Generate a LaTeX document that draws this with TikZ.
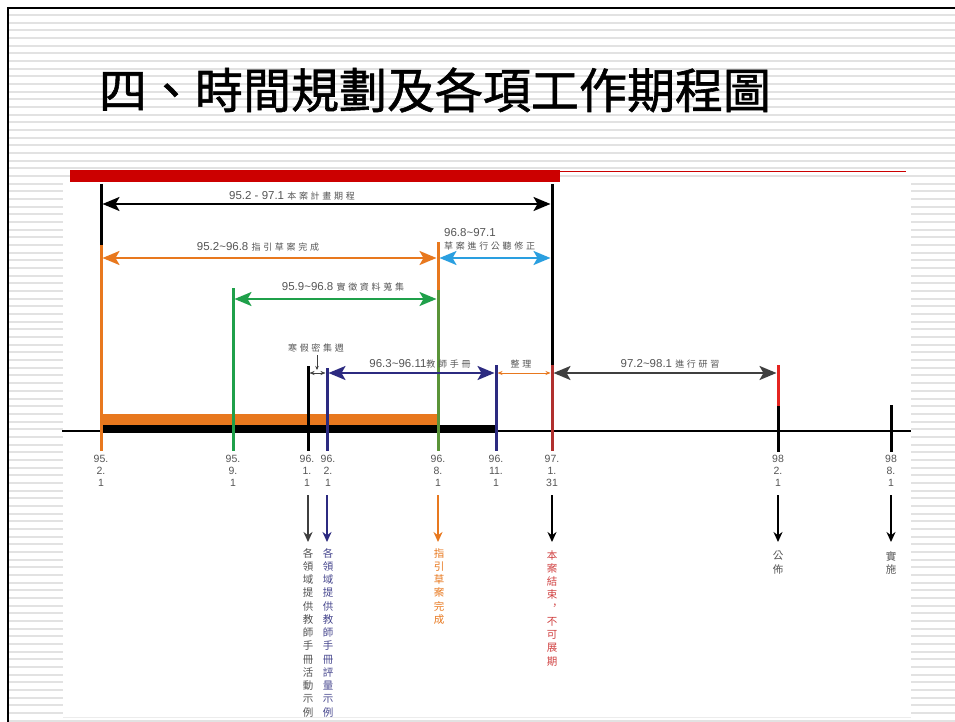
\documentclass[tikz,border=0pt]{standalone}
\usepackage{fontspec}
\setmainfont{Liberation Sans}
\newfontfamily\cjk{Noto Sans CJK TC}
\newfontfamily\cjkt[FakeBold=1.2]{Noto Sans CJK TC}
\newfontfamily\cjks[LetterSpace=30]{Noto Sans CJK TC}
\usetikzlibrary{arrows.meta}
\definecolor{slidered}{HTML}{CC0000}
\definecolor{orng}{HTML}{E8781E}
\definecolor{grn}{HTML}{1FA04A}
\definecolor{olivegrn}{HTML}{5A9438}
\definecolor{sky}{HTML}{2A9FE0}
\definecolor{navyc}{HTML}{2C2A80}
\definecolor{dred}{HTML}{B0302E}
\definecolor{bred}{HTML}{E52420}
\definecolor{txtgray}{HTML}{555555}
\definecolor{agray}{HTML}{3F3F3F}
\definecolor{stripec}{HTML}{E2E2E2}
\definecolor{vnavy}{HTML}{4A4A90}
\definecolor{vred}{HTML}{D04040}
\tikzset{
  vline/.style={line width=3pt},
  dbl/.style={line width=2.4pt,{Stealth[length=17pt,width=14pt,inset=4pt]}-{Stealth[length=17pt,width=14pt,inset=4pt]},shorten <=1.5pt,shorten >=1.5pt},
  thin dbl/.style={line width=0.9pt,{Stealth[length=5pt,width=4pt]}-{Stealth[length=5pt,width=4pt]},shorten <=1.5pt,shorten >=1.5pt},
  down/.style={line width=2pt,-{Stealth[length=10pt,width=9pt]}},
  lbl/.style={text=txtgray,inner sep=0pt,font=\fontsize{11.5}{13}\selectfont},
  tick/.style={text=txtgray,inner sep=0pt,align=center,font=\fontsize{10.5}{12}\selectfont},
  vtext/.style={inner sep=0pt,align=center,anchor=north,font=\cjk\fontsize{10.5}{13.25}\selectfont},
}
\begin{document}
\begin{tikzpicture}[x=1pt,y=-1pt]
\useasboundingbox (0,0) rectangle (955,722);
\fill[white] (0,0) rectangle (955,722);
% stripes
\foreach \i in {0,...,92} \draw[stripec,line width=2pt] (9,15+7.67*\i) -- (955,15+7.67*\i);
% white picture area
\fill[white] (63,183) rectangle (911,717);
\draw[gray!15,line width=0.8pt] (63,717) -- (911,717);
% slide border
\draw[line width=2.6pt] (8,722) -- (8,8) -- (955,8);
% title
\node[font=\cjkt\fontsize{48}{52}\selectfont,inner sep=0pt] (title) at (435,90) {四、時間規劃及各項工作期程圖};
% red bar
\fill[slidered] (70,170.5) rectangle (560,182);
\draw[slidered,line width=1.2pt] (560,171.5) -- (906,171.5);

% axis and bars
\fill[orng] (101,414) rectangle (438,424.5);
\fill[black] (101,424.5) rectangle (495,433);
\draw[line width=2pt] (62,431) -- (911,431);

% named points
\coordinate (a1) at (101,204); \coordinate (a2) at (552,204);
\coordinate (b1) at (101,258); \coordinate (b2) at (438,258); \coordinate (b3) at (552,258);
\coordinate (c1) at (233,299); \coordinate (c2) at (438,299);
\coordinate (d0) at (308,373); \coordinate (d1) at (327,373); \coordinate (d2) at (496,373); \coordinate (d3) at (552,373); \coordinate (d4) at (778,373);

% vertical lines
\draw[vline,black] (101,184) -- (101,245);
\draw[vline,orng] (101,245) -- (101,451);
\draw[vline,grn] (233,288) -- (233,451);
\draw[vline,black] (308,366) -- (308,451);
\draw[vline,navyc] (327,368) -- (327,451);
\draw[vline,orng] (438,242) -- (438,290);
\draw[vline,olivegrn] (438,290) -- (438,451);
\draw[vline,navyc] (496,365) -- (496,451);
\draw[vline,black] (552,184) -- (552,365);
\draw[vline,dred] (552,365) -- (552,451);
\draw[vline,bred] (778,365) -- (778,406);
\draw[vline,black] (778,406) -- (778,452);
\draw[vline,black] (891,405) -- (891,452);

% span arrows
\draw[dbl,black] (a1) -- (a2);
\node[lbl] (la) at (292,196) {95.2 - 97.1 {\cjks\fontsize{9}{10}\selectfont 本案計畫期程}};
\draw[dbl,orng] (b1) -- (b2);
\node[lbl] (lb) at (258,247) {95.2\textasciitilde96.8 {\cjks\fontsize{9}{10}\selectfont 指引草案完成}};
\draw[dbl,sky] (b2) -- (b3);
\node[lbl,anchor=west] (lc1) at (444,233) {96.8\textasciitilde97.1};
\node[lbl,anchor=west] (lc2) at (444,246) {\cjks\fontsize{9}{10}\selectfont 草案進行公聽修正};
\draw[dbl,grn] (c1) -- (c2);
\node[lbl] (ld) at (343,287) {95.9\textasciitilde96.8 {\cjks\fontsize{9}{10}\selectfont 實徵資料蒐集}};
% winter week
\node[text=txtgray,inner sep=0pt,font=\cjks\fontsize{9}{10}\selectfont] (lw) at (316,348) {寒假密集週};
\coordinate (w1) at (317,355); \coordinate (w2) at (317,370);
\draw[agray,line width=0.7pt,-{Stealth[length=4pt,width=3.5pt]}] (w1) -- (w2);
\draw[thin dbl,agray,line width=0.6pt] (d0) -- (d1);
\draw[dbl,navyc] (d1) -- (d2);
\node[lbl] (le) at (420,364) {96.3\textasciitilde96.11{\cjks\fontsize{9}{10}\selectfont 教師手冊}};
\draw[thin dbl,orng] (d2) -- (d3);
\node[lbl] (lf) at (521,364) {\cjks\fontsize{9}{10}\selectfont 整理};
\draw[dbl,agray] (d3) -- (d4);
\node[lbl] (lg) at (670,364) {97.2\textasciitilde98.1 {\cjks\fontsize{9}{10}\selectfont 進行研習}};

% tick labels
\node[tick,anchor=north] (t1) at (101,455) {95.\\2.\\1};
\node[tick,anchor=north] (t2) at (233,455) {95.\\9.\\1};
\node[tick,anchor=north] (t3) at (307,455) {96.\\1.\\1};
\node[tick,anchor=north] (t4) at (328,455) {96.\\2.\\1};
\node[tick,anchor=north] (t5) at (438,455) {96.\\8.\\1};
\node[tick,anchor=north] (t6) at (496,455) {96.\\11.\\1};
\node[tick,anchor=north] (t7) at (552,455) {97.\\1.\\31};
\node[tick,anchor=north] (t8) at (778,455) {98\\2.\\1};
\node[tick,anchor=north] (t9) at (891,455) {98\\8.\\1};

% down arrows
\foreach \x/\c/\n in {308/agray/p1,327/navyc/p2,438/orng/p3,552/black/p4,778/black/p5,891/black/p6} {
  \coordinate (\n s) at (\x,495); \coordinate (\n e) at (\x,542);
  \draw[down,\c] (\n s) -- (\n e);
}
\node[vtext,text=txtgray] (v1) at (308,548) {各\\領\\域\\提\\供\\教\\師\\手\\冊\\活\\動\\示\\例};
\node[vtext,text=vnavy] (v2) at (328,548) {各\\領\\域\\提\\供\\教\\師\\手\\冊\\評\\量\\示\\例};
\node[vtext,text=orng] (v3) at (439,548) {指\\引\\草\\案\\完\\成};
\node[vtext,text=vred] (v4) at (552,550) {本\\案\\結\\束\\{\hspace*{0.55em}\raisebox{0.2em}{，}}\\不\\可\\展\\期};
\node[vtext,text=txtgray] (v5) at (778,551) {公\\佈};
\node[vtext,text=txtgray] (v6) at (891,551) {實\\施};
\end{tikzpicture}
\end{document}
